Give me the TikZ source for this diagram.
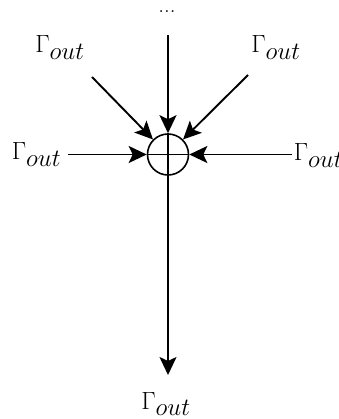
\documentclass[tikz,border=0pt]{standalone}
\usetikzlibrary{arrows.meta}
\begin{document}
\begin{tikzpicture}[x=1pt,y=-1pt,
  lbl/.style={anchor=base,inner sep=0pt,font=\fontsize{23}{26}\selectfont},
  arr/.style={line width=1.9pt,-{Stealth[length=18pt,width=17pt,inset=4pt]}},
  ln/.style={line width=1.9pt},
  sumnode/.style={circle,draw,line width=1.6pt,minimum size=41pt,inner sep=0pt}]
\useasboundingbox (0,0) rectangle (338,419);
% labels
\node[lbl] (dots) at (167,13) {...};
\node[lbl] (ltl) at (60,53) {$\Gamma_{\textstyle out}$};
\node[lbl] (ltr) at (276,53) {$\Gamma_{\textstyle out}$};
\node[lbl] (ll) at (36.5,160) {$\Gamma_{\textstyle out}$};
\node[lbl] (lr) at (318.5,161) {$\Gamma_{\textstyle out}$};
\node[lbl] (lb) at (166,409) {$\Gamma_{\textstyle out}$};
% summing junction
\node[sumnode] (sum) at (168,154.5) {};
\draw[ln] (sum.north) -- (sum.south);
\draw[ln] (sum.west) -- (sum.east);
% free ends
\coordinate (stop) at (168,35);
\coordinate (stl) at (92,77);
\coordinate (str) at (248,75);
\coordinate (sl) at (68,154.5);
\coordinate (sr) at (292,154.5);
\coordinate (ebot) at (168,375);
% connectors
\draw[arr] (stop) -- (sum.north);
\draw[arr] (stl) -- (sum.north west);
\draw[arr] (str) -- (sum.north east);
\draw[arr] (sl) -- (sum.west);
\draw[arr] (sr) -- (sum.east);
\draw[arr] (sum.south) -- (ebot);
\end{tikzpicture}
\end{document}
